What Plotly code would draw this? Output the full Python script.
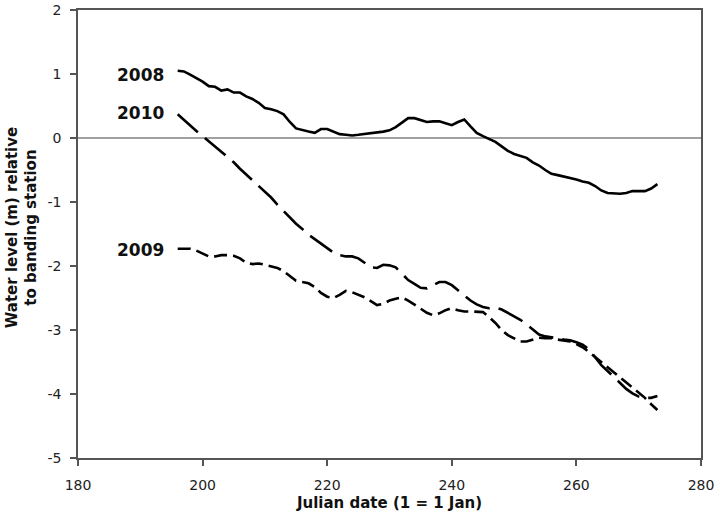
import plotly.graph_objects as go

days = list(range(196, 274))

level_2008 = [1.05, 1.04, 0.99, 0.94, 0.88, 0.81, 0.80, 0.74, 0.76, 0.71,
              0.71, 0.65, 0.61, 0.55, 0.47, 0.45, 0.42, 0.37, 0.25, 0.15,
              0.12, 0.10, 0.08, 0.14, 0.14, 0.10, 0.06, 0.05, 0.04, 0.05,
              0.06, 0.08, 0.09, 0.10, 0.12, 0.17, 0.24, 0.31, 0.31, 0.28,
              0.25, 0.26, 0.26, 0.23, 0.20, 0.25, 0.29, 0.18, 0.08, 0.03,
              -0.02, -0.06, -0.13, -0.20, -0.25, -0.28, -0.31, -0.38, -0.43, -0.50,
              -0.56, -0.58, -0.60, -0.62, -0.65, -0.68, -0.70, -0.75, -0.82, -0.86,
              -0.87, -0.87, -0.86, -0.83, -0.83, -0.83, -0.79, -0.72]

level_2010 = [0.37, 0.28, 0.19, 0.11, 0.03, -0.05, -0.13, -0.22, -0.30, -0.38,
              -0.48, -0.57, -0.65, -0.74, -0.83, -0.93, -1.04, -1.14, -1.25, -1.34,
              -1.42, -1.51, -1.58, -1.65, -1.73, -1.79, -1.83, -1.85, -1.85, -1.88,
              -1.95, -2.02, -2.03, -1.98, -1.99, -2.02, -2.12, -2.22, -2.28, -2.34,
              -2.35, -2.30, -2.25, -2.25, -2.30, -2.38, -2.46, -2.54, -2.60, -2.64,
              -2.66, -2.65, -2.68, -2.73, -2.78, -2.84, -2.91, -2.99, -3.07, -3.10,
              -3.11, -3.13, -3.15, -3.16, -3.19, -3.23, -3.30, -3.43, -3.55, -3.64,
              -3.73, -3.83, -3.92, -3.99, -4.04, -4.06, -4.06, -4.03]

level_2009 = [-1.73, -1.73, -1.73, -1.76, -1.81, -1.85, -1.85, -1.83, -1.83, -1.84,
              -1.88, -1.95, -1.97, -1.96, -1.98, -2.01, -2.03, -2.08, -2.16, -2.23,
              -2.25, -2.27, -2.33, -2.42, -2.48, -2.50, -2.45, -2.39, -2.41, -2.45,
              -2.49, -2.55, -2.61, -2.59, -2.54, -2.51, -2.49, -2.54, -2.60, -2.67,
              -2.73, -2.77, -2.74, -2.69, -2.66, -2.69, -2.71, -2.71, -2.71, -2.72,
              -2.80, -2.89, -3.00, -3.08, -3.13, -3.18, -3.18, -3.15, -3.12, -3.13,
              -3.13, -3.15, -3.17, -3.18, -3.22, -3.27, -3.34, -3.42, -3.50, -3.57,
              -3.65, -3.73, -3.81, -3.90, -3.97, -4.06, -4.16, -4.25]

series = [
    ("2008", level_2008, "solid", -4),
    ("2010", level_2010, "27px,9px", 1),
    ("2009", level_2009, "13px,6px", -1),
]

x_ticks = [180, 200, 220, 240, 260, 280]
y_ticks = [-5, -4, -3, -2, -1, 0, 1, 2]
y_tick_text = ["-5", "-4", "-3", "-2", "-1", "0", "1", "2"]

fig = go.Figure()
for name, vals, dash, ysh in series:
    fig.add_trace(go.Scatter(x=days, y=vals, mode="lines", name=name,
                             line=dict(color="black", width=2.6, dash=dash)))
    fig.add_annotation(x=days[0], y=vals[0], text="<b>%s</b>" % name,
                       showarrow=False, xanchor="right", yanchor="middle",
                       xshift=-12, yshift=ysh,
                       font=dict(family="DejaVu Sans", size=17, color="#111"))

fig.add_annotation(xref="paper", yref="paper", x=-0.09, y=0.515,
                   text="<b>Water level (m) relative<br>to banding station</b>",
                   textangle=-90, showarrow=False, xanchor="center", yanchor="middle",
                   font=dict(family="DejaVu Sans", size=15, color="#111"))

axis_common = dict(showline=True, linecolor="#555", linewidth=1.5, mirror=True,
                   ticks="outside", ticklen=6, tickwidth=1.5, tickcolor="#555",
                   showgrid=False, zeroline=False, automargin=False,
                   tickfont=dict(family="DejaVu Sans", size=14, color="#222"))

fig.update_layout(
    template="none",
    width=720, height=519,
    margin=dict(l=78, r=19, t=10, b=61, autoexpand=False),
    paper_bgcolor="white", plot_bgcolor="white",
    showlegend=False,
    xaxis=dict(range=[180, 280], tickvals=x_ticks, ticklabelstandoff=7,
               title=dict(text="<b>Julian date (1 = 1 Jan)</b>", standoff=6,
                          font=dict(family="DejaVu Sans", size=15, color="#111")),
               **axis_common),
    yaxis=dict(range=[-5, 2], tickvals=y_ticks, ticktext=y_tick_text,
               ticklabelstandoff=6, **axis_common),
    shapes=[dict(type="line", xref="paper", yref="y", x0=0, x1=1, y0=0, y1=0,
                 line=dict(color="#808080", width=1.5), layer="below")],
)

fig.write_html("out.html", config={"displayModeBar": False},
               post_script="document.body.style.margin='0px';")
